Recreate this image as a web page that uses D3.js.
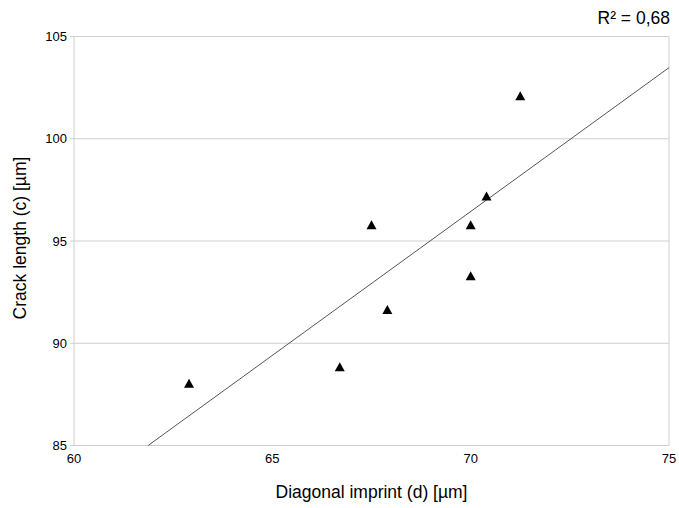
<!DOCTYPE html>
<html>
<head>
<meta charset="utf-8">
<script src="https://cdn.jsdelivr.net/npm/d3@7"></script>
<style>
  html, body { margin: 0; padding: 0; background: #fff; }
  svg { display: block; font-family: "Liberation Sans", Arial, sans-serif; }
</style>
</head>
<body>
<svg id="chart" width="679" height="508"></svg>
<script>
// Measurements: diagonal imprint d vs crack length c (µm)
const diagonal = [62.9, 66.7, 67.5, 67.9, 70.0, 70.0, 70.4, 71.25];
const crack    = [88.05, 88.85, 95.8, 91.65, 95.8, 93.3, 97.2, 102.1];
const xTicks = [60, 65, 70, 75];
const yTicks = [85, 90, 95, 100, 105];

const svg = d3.select("#chart");
const m = { left: 74, right: 669, top: 36.5, bottom: 445.5 };

const x = d3.scaleLinear().domain([60, 75]).range([m.left, m.right]);
const y = d3.scaleLinear().domain([85, 105]).range([m.bottom, m.top]);

// horizontal gridlines
svg.append("g").selectAll("line").data(yTicks).join("line")
  .attr("x1", m.left - 4).attr("x2", m.right)
  .attr("y1", d => y(d)).attr("y2", d => y(d))
  .attr("stroke", "#cfcfcf").attr("stroke-width", 1);

// left axis and right border
svg.append("line").attr("x1", m.left).attr("x2", m.left)
  .attr("y1", m.top).attr("y2", m.bottom).attr("stroke", "#cfcfcf");
svg.append("line").attr("x1", m.right).attr("x2", m.right)
  .attr("y1", m.top).attr("y2", m.bottom).attr("stroke", "#cfcfcf");

// y tick labels
svg.append("g").selectAll("text").data(yTicks).join("text")
  .attr("x", m.left - 7).attr("y", d => y(d)).attr("dy", "0.35em")
  .attr("text-anchor", "end").attr("font-size", 13).attr("fill", "#000")
  .text(d => d);

// x tick labels
svg.append("g").selectAll("text").data(xTicks).join("text")
  .attr("x", d => x(d)).attr("y", m.bottom + 17)
  .attr("text-anchor", "middle").attr("font-size", 13).attr("fill", "#000")
  .text(d => d);

// least-squares trend line
const n = diagonal.length;
const mx = d3.mean(diagonal), my = d3.mean(crack);
let sxy = 0, sxx = 0, syy = 0;
for (let i = 0; i < n; i++) {
  sxy += (diagonal[i] - mx) * (crack[i] - my);
  sxx += (diagonal[i] - mx) ** 2;
  syy += (crack[i] - my) ** 2;
}
const slope = sxy / sxx, intercept = my - slope * mx;
const r2 = (sxy * sxy) / (sxx * syy);
const xStart = Math.max(60, (85 - intercept) / slope);
const xEnd = Math.min(75, (105 - intercept) / slope);
svg.append("line")
  .attr("x1", x(xStart)).attr("y1", y(slope * xStart + intercept))
  .attr("x2", x(xEnd)).attr("y2", y(slope * xEnd + intercept))
  .attr("stroke", "#555").attr("stroke-width", 1);

// triangle markers, centred on their bounding box
const tri = "M0,-4.5L5,4.5L-5,4.5Z";
svg.append("g").selectAll("path").data(diagonal).join("path")
  .attr("d", tri)
  .attr("transform", (d, i) => `translate(${x(d)},${y(crack[i])})`)
  .attr("fill", "#000");

// R² label
svg.append("text").attr("x", 670).attr("y", 24)
  .attr("text-anchor", "end").attr("font-size", 17.5).attr("fill", "#000")
  .text("R² = " + r2.toFixed(2).replace(".", ","));

// axis titles
svg.append("text").attr("x", (m.left + m.right) / 2).attr("y", 498)
  .attr("text-anchor", "middle").attr("font-size", 17.5).attr("fill", "#000")
  .text("Diagonal imprint (d) [µm]");
svg.append("text")
  .attr("transform", `translate(26,${(m.top + m.bottom) / 2 - 3}) rotate(-90)`)
  .attr("text-anchor", "middle").attr("font-size", 17.5).attr("fill", "#000")
  .text("Crack length (c) [µm]");
</script>
</body>
</html>
